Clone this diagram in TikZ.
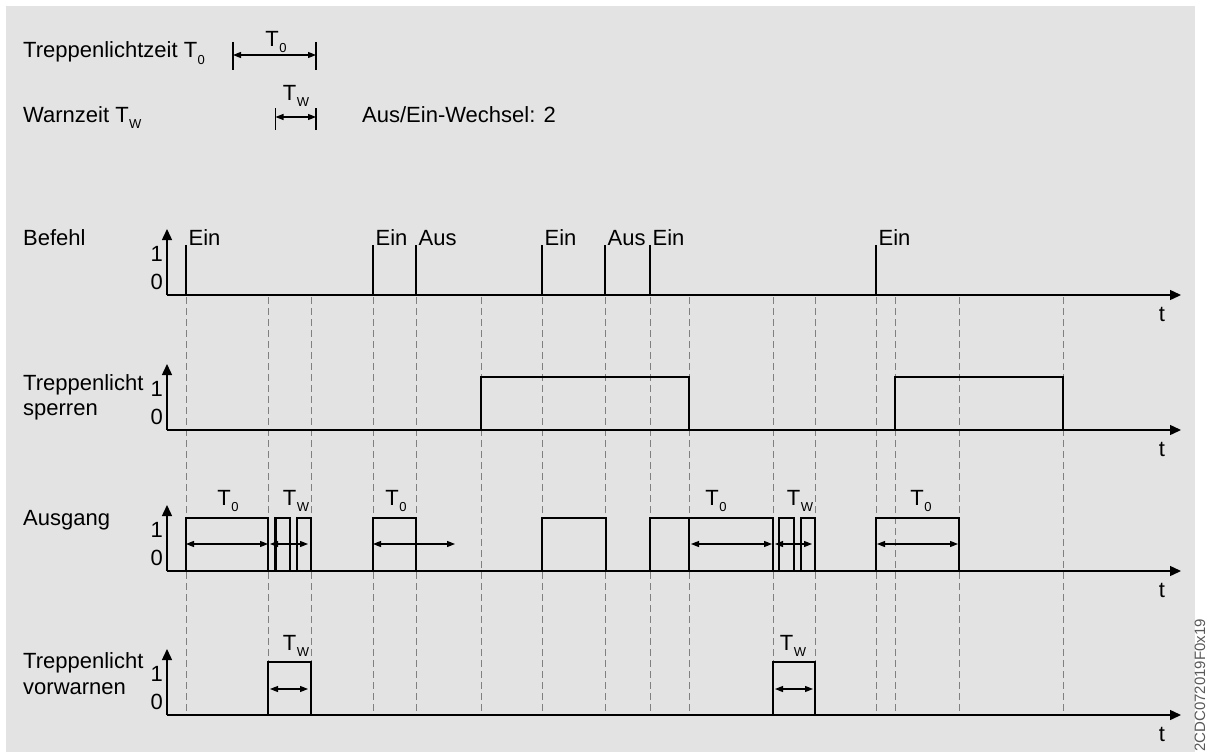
\documentclass[tikz,border=0pt]{standalone}
\usepackage{fontspec}
\setmainfont{Liberation Sans}
\usetikzlibrary{arrows.meta}
\definecolor{panelgray}{RGB}{227,227,227}
\definecolor{guidegray}{RGB}{128,128,128}
\newcommand{\tsub}[1]{T\kern0.5pt\raisebox{-6pt}{\fontsize{13}{13}\selectfont #1}}
\tikzset{
 lbl/.style={font=\fontsize{22}{26}\selectfont, inner sep=0pt},
 axisline/.style={line width=1.4pt, -{Triangle[length=11pt,width=10pt]}},
 pulse/.style={line width=2.8pt, line join=miter},
 thinpulse/.style={line width=1.7pt, line join=miter},
 tick/.style={line width=1.3pt},
 span/.style={line width=1.1pt, {Triangle[length=8pt,width=6pt]}-{Triangle[length=8pt,width=6pt]}},
 guide/.style={guidegray, line width=0.9pt, dash pattern=on 7pt off 4pt}
}

\begin{document}
\begin{tikzpicture}[x=1pt, y=-1pt]
 \useasboundingbox (0,0) rectangle (1206,752);
 \fill[panelgray] (6,6) rectangle (1195,752);

 \node[lbl, anchor=base west] (zeit) at (23,58) {Treppenlichtzeit \tsub{0}};
 \node[lbl, anchor=base west] (warn) at (23,122) {Warnzeit \tsub{W}};
 \node[lbl, anchor=base west] (wechsel) at (362,122) {Aus/Ein-Wechsel: 2};
 \draw[tick] (233,42) -- (233,70);
 \draw[tick] (316,42) -- (316,70);
 \draw[span] (233,55) -- (316,55);
 \node[lbl, anchor=base] (zeit-t0) at (276,46) {\tsub{0}};
 \draw[tick] (275.5,108) -- (275.5,130);
 \draw[tick] (316,108) -- (316,130);
 \draw[span] (275.5,117) -- (316,117);
 \node[lbl, anchor=base] (warn-tw) at (296,100) {\tsub{W}};

 \coordinate (befehl) at (167,295);
 \coordinate (sperren) at (167,430);
 \coordinate (ausgang) at (167,571);
 \coordinate (vorwarnen) at (167,715);

 \foreach \x in {186,268,311,373,416,481,542,605,650,689,773,815,876,895,959,1063}
  \draw[guide] (\x,297) -- (\x,715);

 \foreach \row/\y in {befehl/295,sperren/430,ausgang/571,vorwarnen/715} {
  \draw[axisline] (\row) -- ++(0,-66);
  \draw[axisline] (\row) -- ++(1014,0);
  \node[lbl, anchor=base east] (\row-one) at (163,\y-34) {1};
  \node[lbl, anchor=base east] (\row-zero) at (163,\y-6) {0};
  \node[lbl, anchor=base] (\row-t) at (1162,\y+26) {t};
 }

 \node[lbl, anchor=base west] (befehl-lbl) at (23,245) {Befehl};
 \node[lbl, anchor=base west] (sperren-lbl) at (23,390) {Treppenlicht};
 \node[lbl, anchor=base west] (sperren-lbl2) at (23,415) {sperren};
 \node[lbl, anchor=base west] (ausgang-lbl) at (23,525) {Ausgang};
 \node[lbl, anchor=base west] (vorwarnen-lbl) at (23,668) {Treppenlicht};
 \node[lbl, anchor=base west] (vorwarnen-lbl2) at (23,694) {vorwarnen};

 \foreach \x/\cmd in {186/Ein,373/Ein,416/Aus,542/Ein,605/Aus,650/Ein,876/Ein}
  \draw[tick] (\x,295) -- (\x,245) node[lbl, anchor=base west, xshift=2pt] (cmd-\x) {\cmd};

 \draw[pulse] (481,430) |- (689,377) -- (689,430);
 \draw[pulse] (895,430) |- (1063,377) -- (1063,430);

 \foreach \a/\b in {186/268,275.5/290,297/311,373/416,542/606,650/773,779/794,801/815}
  \draw[pulse] (\a,571) |- (\b,518) -- (\b,571);
 \draw[pulse] (689,518) -- (689,571);
 \draw[thinpulse] (876,571) |- (959,518) -- (959,571);

 \draw[span] (186,544) -- (268,544);
 \draw[span] (270,544) -- (308,544);
 \draw[span] (373,544) -- (455,544);
 \draw[span] (691,544) -- (772,544);
 \draw[span] (775,544) -- (812,544);
 \draw[span] (877,544) -- (958,544);
 \node[lbl, anchor=base] (aus-t0a) at (228,505) {\tsub{0}};
 \node[lbl, anchor=base] (aus-twa) at (296,505) {\tsub{W}};
 \node[lbl, anchor=base] (aus-t0b) at (396,505) {\tsub{0}};
 \node[lbl, anchor=base] (aus-t0c) at (716,505) {\tsub{0}};
 \node[lbl, anchor=base] (aus-twb) at (800,505) {\tsub{W}};
 \node[lbl, anchor=base] (aus-t0d) at (921,505) {\tsub{0}};

 \draw[pulse] (268,715) |- (311,662) -- (311,715);
 \draw[pulse] (773,715) |- (815,662) -- (815,715);
 \draw[span] (270,689) -- (308,689);
 \draw[span] (775,689) -- (813,689);
 \node[lbl, anchor=base] (warn-twa) at (296,650) {\tsub{W}};
 \node[lbl, anchor=base] (warn-twb) at (793,650) {\tsub{W}};

 \node[font=\fontsize{15}{15}\selectfont, text=black!65, rotate=90, anchor=base west, inner sep=0pt] (docid) at (1205,752) {2CDC072019F0x19};
\end{tikzpicture}
\end{document}
